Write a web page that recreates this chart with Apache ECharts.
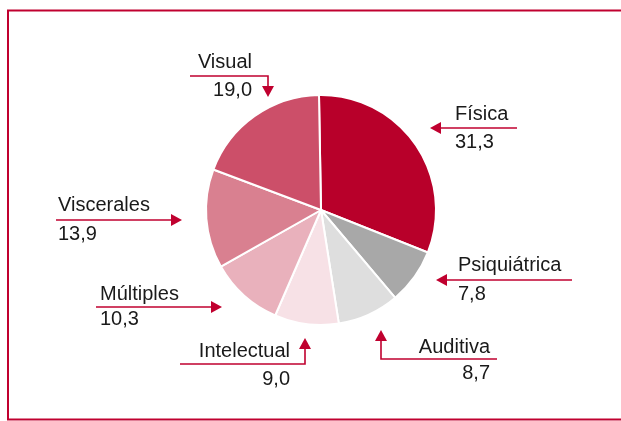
<!DOCTYPE html>
<html>
<head>
<meta charset="utf-8">
<script src="https://cdn.jsdelivr.net/npm/echarts@6/dist/echarts.min.js"></script>
<style>
	html, body { margin: 0; padding: 0; background: #fff; }
	#main { width: 621px; height: 421px; }
</style>
</head>
<body>
<div id="main"></div>
<script>
var categories = ['Física', 'Psiquiátrica', 'Auditiva', 'Intelectual', 'Múltiples', 'Viscerales', 'Visual'];
var values = [31.3, 7.8, 8.7, 9.0, 10.3, 13.9, 19.0];
var colors = ['#b8002a', '#a8a8a8', '#dedede', '#f7e1e6', '#e9b1bc', '#d98090', '#cc4f69'];

// posiciones de las etiquetas: texto, línea y flecha
// x: borde del texto, align, ny/vy: centro de nombre/valor, pts: polilínea, dir: sentido de la flecha
var labelLayout = [
	{ x: 455, align: 'left', ny: 114, vy: 142, pts: [[517, 128], [440, 128]], tip: [430, 128], dir: 'left' },
	{ x: 458, align: 'left', ny: 265, vy: 294, pts: [[572, 280], [446, 280]], tip: [436, 280], dir: 'left' },
	{ x: 490, align: 'right', ny: 347, vy: 373, pts: [[497, 359], [381, 359], [381, 340]], tip: [381, 330], dir: 'up' },
	{ x: 290, align: 'right', ny: 351, vy: 379, pts: [[180, 364], [305, 364], [305, 348]], tip: [305, 338], dir: 'up' },
	{ x: 100, align: 'left', ny: 294, vy: 319, pts: [[96, 307], [212, 307]], tip: [222, 307], dir: 'right' },
	{ x: 58, align: 'left', ny: 205, vy: 234, pts: [[56, 220], [172, 220]], tip: [182, 220], dir: 'right' },
	{ x: 252, align: 'right', ny: 62, vy: 90, pts: [[190, 76], [268, 76], [268, 87]], tip: [268, 97], dir: 'down' }
];

var lineColor = '#c0002f';
var textFont = '20px "Liberation Sans", Arial, sans-serif';

function arrowPoints(tip, dir) {
	var x = tip[0], y = tip[1], l = 11, w = 6;
	if (dir === 'left') return [[x, y], [x + l, y - w], [x + l, y + w]];
	if (dir === 'right') return [[x, y], [x - l, y - w], [x - l, y + w]];
	if (dir === 'up') return [[x, y], [x - w, y + l], [x + w, y + l]];
	return [[x, y], [x - w, y - l], [x + w, y - l]];
}

var graphics = [{
	type: 'rect',
	shape: { x: 8, y: 10.5, width: 700, height: 409 },
	style: { fill: 'none', stroke: lineColor, lineWidth: 2 },
	silent: true
}];

labelLayout.forEach(function(p, i) {
	graphics.push({
		type: 'polyline',
		shape: { points: p.pts },
		style: { stroke: lineColor, lineWidth: 1.6, fill: 'none' },
		silent: true
	});
	graphics.push({
		type: 'polygon',
		shape: { points: arrowPoints(p.tip, p.dir) },
		style: { fill: lineColor },
		silent: true
	});
	graphics.push({
		type: 'text',
		x: p.x, y: p.ny,
		style: { text: categories[i], font: textFont, fill: '#1a1a1a', align: p.align, verticalAlign: 'middle' },
		silent: true
	});
	graphics.push({
		type: 'text',
		x: p.x, y: p.vy,
		style: { text: values[i].toFixed(1).replace('.', ','), font: textFont, fill: '#1a1a1a', align: p.align, verticalAlign: 'middle' },
		silent: true
	});
});

var myChart = echarts.init(document.getElementById('main'));
myChart.setOption({
	backgroundColor: '#fff',
	animation: false,
	series: [{
		type: 'pie',
		center: [321, 210],
		radius: 115,
		startAngle: 91,
		clockwise: true,
		label: { show: false },
		labelLine: { show: false },
		itemStyle: { borderColor: '#fff', borderWidth: 2 },
		data: categories.map(function(name, i) {
			return { name: name, value: values[i], itemStyle: { color: colors[i] } };
		})
	}],
	graphic: graphics
});
</script>
</body>
</html>
